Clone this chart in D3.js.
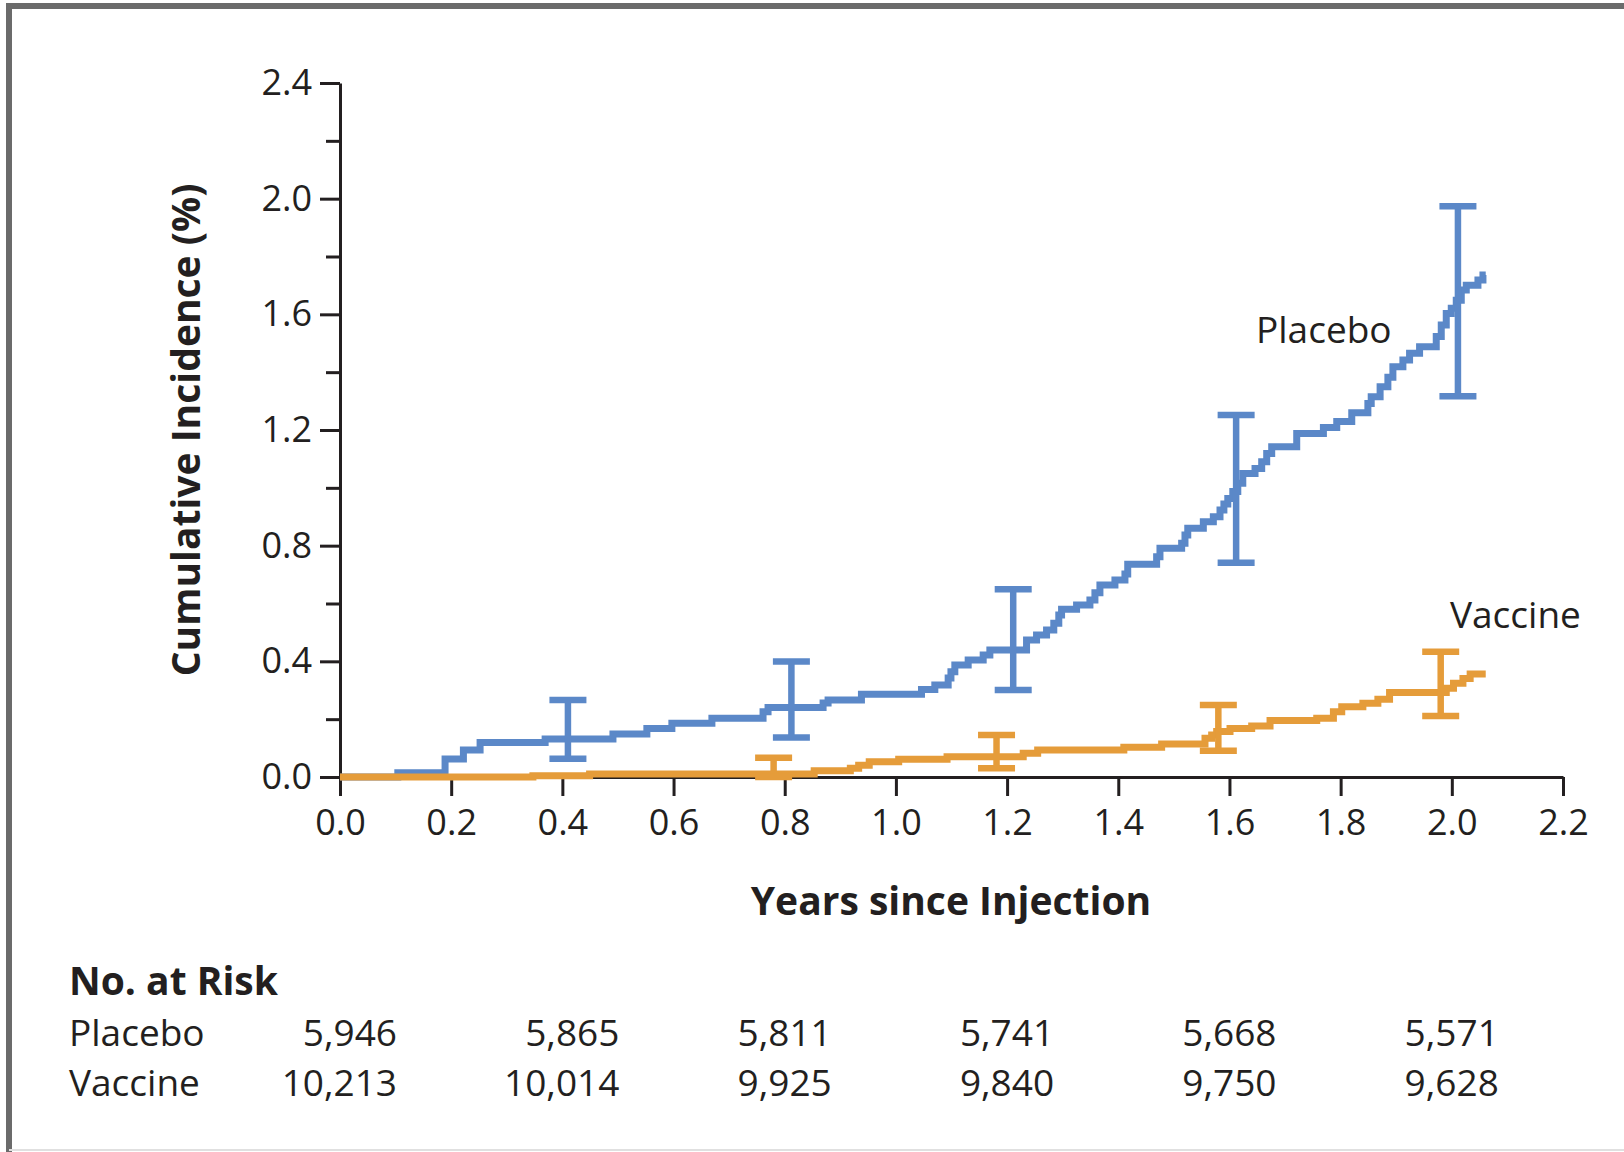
<!DOCTYPE html>
<html>
<head>
<meta charset="utf-8">
<script src="https://cdn.jsdelivr.net/npm/d3@7"></script>
<style>
  html, body { margin: 0; padding: 0; background: #fff; }
  svg { display: block; }
  text { font-family: "Open Sans", "Noto Sans", sans-serif; fill: #231f20; }
</style>
</head>
<body>
<svg id="chart" width="1624" height="1152"></svg>
<script>
// ---------- data ----------
const placeboTimes = [0, 0.104, 0.189, 0.222, 0.252, 0.369, 0.491, 0.552, 0.597, 0.669, 0.761, 0.770, 0.869, 0.878, 0.938, 1.046, 1.070, 1.094, 1.099, 1.106, 1.130, 1.157, 1.169, 1.235, 1.253, 1.271, 1.284, 1.293, 1.298, 1.325, 1.349, 1.358, 1.367, 1.394, 1.412, 1.417, 1.469, 1.475, 1.514, 1.520, 1.525, 1.553, 1.571, 1.583, 1.590, 1.597, 1.606, 1.615, 1.624, 1.646, 1.658, 1.667, 1.676, 1.721, 1.769, 1.793, 1.820, 1.849, 1.855, 1.871, 1.885, 1.894, 1.912, 1.924, 1.942, 1.972, 1.981, 1.990, 1.999, 2.008, 2.017, 2.026, 2.047, 2.056, 2.061];
const placeboValues = [0, 0.015, 0.062, 0.093, 0.119, 0.131, 0.149, 0.168, 0.186, 0.203, 0.226, 0.240, 0.256, 0.266, 0.286, 0.303, 0.318, 0.342, 0.364, 0.387, 0.405, 0.422, 0.439, 0.474, 0.491, 0.508, 0.532, 0.560, 0.580, 0.595, 0.612, 0.637, 0.664, 0.681, 0.702, 0.736, 0.762, 0.791, 0.808, 0.837, 0.860, 0.883, 0.900, 0.923, 0.944, 0.963, 0.987, 1.016, 1.050, 1.067, 1.090, 1.119, 1.142, 1.188, 1.209, 1.229, 1.260, 1.292, 1.315, 1.350, 1.382, 1.419, 1.442, 1.465, 1.488, 1.523, 1.563, 1.603, 1.621, 1.649, 1.684, 1.701, 1.719, 1.736, 1.736];

const vaccineTimes = [0, 0.347, 0.449, 0.853, 0.918, 0.933, 0.952, 1.005, 1.092, 1.229, 1.255, 1.410, 1.478, 1.556, 1.568, 1.577, 1.601, 1.640, 1.673, 1.757, 1.787, 1.802, 1.840, 1.867, 1.888, 1.990, 2.003, 2.020, 2.033, 2.061];
const vaccineValues = [0, 0.004, 0.010, 0.022, 0.030, 0.041, 0.053, 0.061, 0.070, 0.082, 0.093, 0.103, 0.114, 0.134, 0.145, 0.157, 0.168, 0.176, 0.195, 0.203, 0.226, 0.243, 0.255, 0.269, 0.292, 0.307, 0.324, 0.341, 0.356, 0.356];

const placeboCITimes = [0.41, 0.812, 1.211, 1.612, 2.011];
const placeboCILow   = [0.063, 0.137, 0.301, 0.741, 1.317];
const placeboCIHigh  = [0.266, 0.399, 0.649, 1.252, 1.974];

const vaccineCITimes = [0.78, 1.181, 1.58, 1.98];
const vaccineCILow   = [0.0, 0.030, 0.091, 0.211];
const vaccineCIHigh  = [0.067, 0.145, 0.249, 0.433];

const yMajorTicks = [0, 0.4, 0.8, 1.2, 1.6, 2.0, 2.4];
const yMinorTicks = [0.2, 0.6, 1.0, 1.4, 1.8, 2.2];
const xTicks = [0, 0.2, 0.4, 0.6, 0.8, 1.0, 1.2, 1.4, 1.6, 1.8, 2.0, 2.2];

const riskTimes = [0, 0.4, 0.8, 1.2, 1.6, 2.0];
const riskPlacebo = ["5,946", "5,865", "5,811", "5,741", "5,668", "5,571"];
const riskVaccine = ["10,213", "10,014", "9,925", "9,840", "9,750", "9,628"];

const BLUE = "#5b88c8";
const ORANGE = "#e59c3a";
const INK = "#231f20";

// ---------- drawing ----------
const svg = d3.select("#chart");
svg.append("rect").attr("width", 1624).attr("height", 1152).attr("fill", "#fff");

// frame
svg.append("path").attr("d", "M9,1152 V6 H1624").attr("fill", "none")
  .attr("stroke", "#6b6b6b").attr("stroke-width", 6);
svg.append("line").attr("x1", 9).attr("x2", 1624).attr("y1", 1150).attr("y2", 1150)
  .attr("stroke", "#e0e0e0").attr("stroke-width", 2);

const x = d3.scaleLinear().domain([0, 2.2]).range([340, 1563]);
const y = d3.scaleLinear().domain([0, 2.4]).range([777, 83]);

// y axis
const yAxis = svg.append("g").attr("transform", "translate(340,0)")
  .call(d3.axisLeft(y).tickValues(yMajorTicks).tickSize(20).tickSizeOuter(0).tickPadding(8)
    .tickFormat(d3.format(".1f")));
yAxis.select(".domain").attr("stroke", INK).attr("stroke-width", 3);
yAxis.selectAll(".tick line").attr("stroke", INK).attr("stroke-width", 3);
yAxis.selectAll(".tick text").attr("font-size", 36).attr("fill", INK)
  .style("font-family", '"Open Sans", sans-serif');

const yMinor = svg.append("g").attr("transform", "translate(340,0)")
  .call(d3.axisLeft(y).tickValues(yMinorTicks).tickSize(14).tickFormat(""));
yMinor.select(".domain").remove();
yMinor.selectAll(".tick line").attr("stroke", INK).attr("stroke-width", 3);

// x axis
const xAxis = svg.append("g").attr("transform", "translate(0,777)")
  .call(d3.axisBottom(x).tickValues(xTicks).tickSize(19).tickSizeOuter(0).tickPadding(13)
    .tickFormat(d3.format(".1f")));
xAxis.select(".domain").attr("stroke", INK).attr("stroke-width", 3);
xAxis.selectAll(".tick line").attr("stroke", INK).attr("stroke-width", 3);
xAxis.selectAll(".tick text").attr("font-size", 36).attr("fill", INK)
  .style("font-family", '"Open Sans", sans-serif');

// axis titles
svg.append("text").attr("transform", "translate(200,430) rotate(-90)")
  .attr("text-anchor", "middle").attr("font-size", 39).attr("font-weight", 700)
  .text("Cumulative Incidence (%)");
svg.append("text").attr("x", 951).attr("y", 915)
  .attr("text-anchor", "middle").attr("font-size", 39).attr("font-weight", 700)
  .text("Years since Injection");

// curves
const line = d3.line().x(d => x(d[0])).y(d => y(d[1])).curve(d3.curveStepAfter);
const placebo = placeboTimes.map((t, i) => [t, placeboValues[i]]);
const vaccine = vaccineTimes.map((t, i) => [t, vaccineValues[i]]);

function drawCI(times, lo, hi, color) {
  const g = svg.append("g").attr("stroke", color).attr("stroke-width", 6.5).attr("fill", "none");
  times.forEach((t, i) => {
    const cx = x(t);
    g.append("line").attr("x1", cx).attr("x2", cx).attr("y1", y(lo[i])).attr("y2", y(hi[i]));
    g.append("line").attr("x1", cx - 18.5).attr("x2", cx + 18.5).attr("y1", y(lo[i])).attr("y2", y(lo[i]));
    g.append("line").attr("x1", cx - 18.5).attr("x2", cx + 18.5).attr("y1", y(hi[i])).attr("y2", y(hi[i]));
  });
}

svg.append("path").datum(placebo).attr("d", line).attr("fill", "none")
  .attr("stroke", BLUE).attr("stroke-width", 7);
drawCI(placeboCITimes, placeboCILow, placeboCIHigh, BLUE);

svg.append("path").datum(vaccine).attr("d", line).attr("fill", "none")
  .attr("stroke", ORANGE).attr("stroke-width", 7);
drawCI(vaccineCITimes, vaccineCILow, vaccineCIHigh, ORANGE);

// curve labels
svg.append("text").attr("x", 1256).attr("y", 343).attr("font-size", 37).text("Placebo");
svg.append("text").attr("x", 1450).attr("y", 628).attr("font-size", 37).text("Vaccine");

// number at risk
svg.append("text").attr("x", 69).attr("y", 995).attr("font-size", 39).attr("font-weight", 700)
  .text("No. at Risk");
svg.append("text").attr("x", 69).attr("y", 1046).attr("font-size", 37).text("Placebo");
svg.append("text").attr("x", 69).attr("y", 1096).attr("font-size", 37).text("Vaccine");

const riskRight = (t, i) => x(t) + (i < 2 ? 57 : 47);
svg.append("g").selectAll("text").data(riskPlacebo).join("text")
  .attr("x", (d, i) => riskRight(riskTimes[i], i)).attr("y", 1046)
  .attr("text-anchor", "end").attr("font-size", 37).text(d => d);
svg.append("g").selectAll("text").data(riskVaccine).join("text")
  .attr("x", (d, i) => riskRight(riskTimes[i], i)).attr("y", 1096)
  .attr("text-anchor", "end").attr("font-size", 37).text(d => d);
</script>
</body>
</html>
